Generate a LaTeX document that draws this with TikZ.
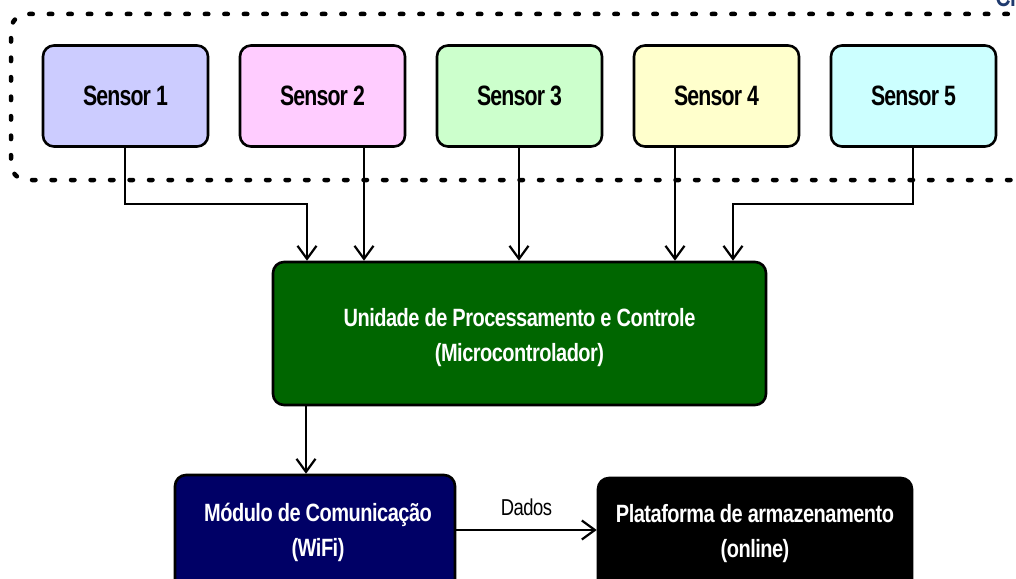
\documentclass[tikz,border=0pt]{standalone}
\usepackage{fontspec}
\usetikzlibrary{arrows.meta}
\newfontfamily\lblfont{Liberation Sans}[FakeStretch=0.8,LetterSpace=-2]
\newfontfamily\senfont{Liberation Sans}[FakeStretch=0.76,LetterSpace=-3]

\definecolor{sOne}{HTML}{CCCCFF}
\definecolor{sTwo}{HTML}{FFCCFF}
\definecolor{sThree}{HTML}{CCFFCC}
\definecolor{sFour}{HTML}{FFFFCC}
\definecolor{sFive}{HTML}{CCFFFF}
\definecolor{cpu}{HTML}{006600}
\definecolor{navy}{HTML}{000066}
\definecolor{titleblue}{HTML}{1F3A6E}

\tikzset{
  box/.style={draw=black, line width=2.6pt, rounded corners=11pt, inner sep=0pt},
  sensorbox/.style={box, minimum width=165pt, minimum height=101pt,
    font=\senfont\bfseries\fontsize{28}{32}\selectfont},
  wtext/.style={text=white, align=center,
    font=\lblfont\bfseries\fontsize{25}{35}\selectfont},
  link/.style={line width=2.2pt, -{Straight Barb[length=13pt,width=19pt,line width=2.2pt]}},
  group/.style={line width=4.5pt, line cap=round, dash pattern=on 3.5pt off 16pt, rounded corners=16pt}
}

\begin{document}
\begin{tikzpicture}[x=1pt,y=-1pt]
\useasboundingbox (0,0) rectangle (1016,578);

% dotted group around the sensors
\draw[group] (1030,180) -- (11,180) -- (11,14) -- (1030,14);
\node[text=titleblue, font=\lblfont\bfseries\fontsize{26}{30}\selectfont, anchor=base west] (title) at (992,7) {Cl};

% sensors
\node[sensorbox, fill=sOne]   (s1) at (125.5,96) {Sensor 1};
\node[sensorbox, fill=sTwo]   (s2) at (322.5,96) {Sensor 2};
\node[sensorbox, fill=sThree] (s3) at (519.5,96) {Sensor 3};
\node[sensorbox, fill=sFour]  (s4) at (716.5,96) {Sensor 4};
\node[sensorbox, fill=sFive]  (s5) at (913.5,96) {Sensor 5};

% processing unit
\node[box, fill=cpu, minimum width=493pt, minimum height=143pt] (cpu) at (519.5,333.5) {};
\node[wtext] (cputxt) at (519.5,338) {Unidade de Processamento e Controle\\(Microcontrolador)};

% communication module and storage platform
\node[box, fill=navy, minimum width=280pt, minimum height=120pt] (mod) at (315,535) {};
\node[wtext] (modtxt) at (318,532) {Módulo de Comunicação\\(WiFi)};
\node[box, fill=black, minimum width=314pt, minimum height=120pt] (plat) at (755,538) {};
\node[wtext] (plattxt) at (755,534) {Plataforma de armazenamento\\(online)};

% sensor connections
\coordinate (j1) at (125,204);
\coordinate (j5) at (913,204);
\draw[link] (s1.south -| j1) -- (j1) -- (j1 -| 307,0) -- (cpu.north -| 307,0);
\draw[link] (s2.south -| 364,0) -- (cpu.north -| 364,0);
\draw[link] (s3.south -| 519,0) -- (cpu.north -| 519,0);
\draw[link] (s4.south -| 675,0) -- (cpu.north -| 675,0);
\draw[link] (s5.south -| j5) -- (j5) -- (j5 -| 733,0) -- (cpu.north -| 733,0);

% downstream data flow
\draw[link] (mod.east |- 0,530) -- node[above=10pt, text=black, font=\lblfont\fontsize{23}{28}\selectfont] (dados) {Dados} (plat.west |- 0,530);
\draw[link] (cpu.south -| 306,0) -- (mod.north -| 306,0);
\end{tikzpicture}
\end{document}
